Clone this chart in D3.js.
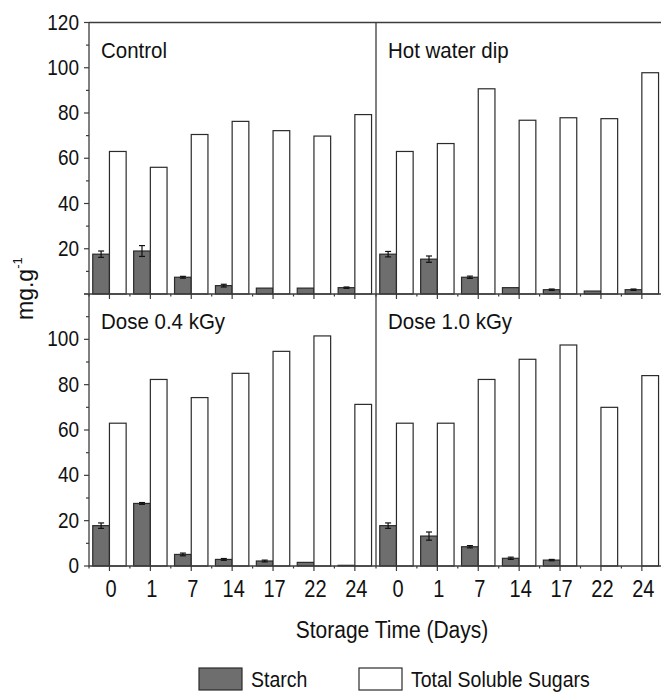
<!DOCTYPE html>
<html><head><meta charset="utf-8">
<script src="https://cdn.jsdelivr.net/npm/d3@7"></script>
<style>body{margin:0;background:#fff;}svg{display:block;font-family:"Liberation Sans",Arial,sans-serif;}</style>
</head><body>
<svg id="chart" width="661" height="693"></svg>
<script>
const days = ["0","1","7","14","17","22","24"];
const panels = ["Control","Hot water dip","Dose 0.4 kGy","Dose 1.0 kGy"];
const starch = [
  [17.6, 19.0, 7.4, 3.7, 2.6, 2.6, 2.8],
  [17.6, 15.4, 7.4, 2.8, 1.9, 1.3, 1.9],
  [17.8, 27.6, 5.1, 2.9, 2.2, 1.6, 0.3],
  [17.8, 13.2, 8.5, 3.4, 2.6, 0, 0]
];
const starchErr = [
  [1.4, 2.4, 0.4, 0.6, 0, 0, 0.3],
  [1.2, 1.4, 0.5, 0, 0.3, 0, 0.3],
  [1.2, 0.4, 0.6, 0.4, 0.4, 0, 0],
  [1.2, 1.8, 0.5, 0.5, 0.3, 0, 0]
];
const tss = [
  [63, 56, 70.5, 76.3, 72.2, 69.8, 79.3],
  [63, 66.5, 90.7, 76.8, 77.9, 77.5, 97.8],
  [63, 82.3, 74.3, 85, 94.7, 101.5, 71.3],
  [63, 63, 82.3, 91.2, 97.5, 70, 84]
];
const yTicksTop = [20, 40, 60, 80, 100, 120];
const yTicksBottom = [0, 20, 40, 60, 80, 100];
const seriesNames = ["Starch", "Total Soluble Sugars"];

const svg = d3.select("#chart");
const L = 89, M = 376, W = 286.3, T = 22.5, MID = 294, B = 566;
const starchFill = "#6e6e6e", edge = "#2b2b2b", frame = "#3c3c3c", txt = "#111";
const SY = 1.12;

function text(g, x, y, s, size, anchor, sy) {
  return g.append("text")
    .attr("transform", `translate(${x},${y}) scale(1,${sy || SY})`)
    .attr("font-size", size).attr("text-anchor", anchor || "start")
    .attr("fill", txt).text(s);
}

const yTop = d3.scaleLinear().domain([0, 120]).range([MID, T]);
const yBot = d3.scaleLinear().domain([0, 120]).range([B, MID]);
const xLeft = d3.scaleBand().domain(days).range([L, L + W]).paddingInner(0).paddingOuter(0);
const xRight = d3.scaleBand().domain(days).range([M, M + W]).paddingInner(0).paddingOuter(0);
const xSub = d3.scaleBand().domain(seriesNames).range([0, xLeft.bandwidth()]).paddingInner(0).paddingOuter(0.2246);

const layout = [
  {x: xLeft, y: yTop, lx: L, ly: T},
  {x: xRight, y: yTop, lx: M, ly: T},
  {x: xLeft, y: yBot, lx: L, ly: MID},
  {x: xRight, y: yBot, lx: M, ly: MID}
];

layout.forEach((p, k) => {
  const g = svg.append("g");
  const base = p.y(0);
  // x ticks
  days.forEach(d => {
    const c = p.x(d) + p.x.bandwidth() / 2;
    g.append("line").attr("x1", c).attr("x2", c).attr("y1", base).attr("y2", base + 5)
      .attr("stroke", frame).attr("stroke-width", 1.2);
    const m = p.x(d);
    g.append("line").attr("x1", m).attr("x2", m).attr("y1", base).attr("y2", base + 2.5)
      .attr("stroke", frame).attr("stroke-width", 1.2);
  });
  // bars
  days.forEach((d, i) => {
    const x0 = p.x(d);
    const sv = starch[k][i];
    if (sv > 0) {
      g.append("rect").attr("x", x0 + xSub("Starch")).attr("width", xSub.bandwidth())
        .attr("y", p.y(sv)).attr("height", base - p.y(sv))
        .attr("fill", starchFill).attr("stroke", edge).attr("stroke-width", 1.2);
      const e = starchErr[k][i];
      if (e > 0) {
        const cx = x0 + xSub("Starch") + xSub.bandwidth() / 2;
        g.append("line").attr("x1", cx).attr("x2", cx).attr("y1", p.y(sv - e)).attr("y2", p.y(sv + e))
          .attr("stroke", "#111").attr("stroke-width", 1.2);
        [sv - e, sv + e].forEach(v => g.append("line").attr("x1", cx - 3).attr("x2", cx + 3)
          .attr("y1", p.y(v)).attr("y2", p.y(v)).attr("stroke", "#111").attr("stroke-width", 1.2));
      }
    }
    const tv = tss[k][i];
    g.append("rect").attr("x", x0 + xSub("Total Soluble Sugars")).attr("width", xSub.bandwidth())
      .attr("y", p.y(tv)).attr("height", base - p.y(tv))
      .attr("fill", "#fff").attr("stroke", edge).attr("stroke-width", 1.2);
  });
  // panel label
  text(g, p.lx + 12, p.ly + 35, panels[k], 20.5, "start");
});

// frame
const fr = svg.append("g").attr("stroke", frame).attr("stroke-width", 1.3).attr("fill", "none");
[T, MID, B].forEach(y => fr.append("line").attr("x1", L).attr("x2", 670).attr("y1", y).attr("y2", y));
[L, M].forEach(x => fr.append("line").attr("x1", x).attr("x2", x).attr("y1", T).attr("y2", B));

// y axes (left only)
const ya = svg.append("g");
[[yTop, yTicksTop], [yBot, yTicksBottom]].forEach(([y, ticks]) => {
  d3.range(0, 121, 10).forEach(v => {
    const major = v % 20 === 0;
    ya.append("line").attr("x1", L - (major ? 5 : 3)).attr("x2", L).attr("y1", y(v)).attr("y2", y(v))
      .attr("stroke", frame).attr("stroke-width", 1.2);
  });
  ticks.forEach(v => text(ya, L - 10, y(v) + 7, String(v), 19, "end"));
});

// x tick labels
[xLeft, xRight].forEach(x => days.forEach(d => {
  text(svg, x(d) + x.bandwidth() / 2 + 1.5, 597, d, 20, "middle", 1.2);
}));

// axis titles
text(svg, 392, 638, "Storage Time (Days)", 21, "middle");
const yt = svg.append("text").attr("transform", "translate(33,320) rotate(-90)")
  .attr("font-size", 23).attr("fill", txt);
yt.append("tspan").text("mg.g");
yt.append("tspan").attr("font-size", 13).attr("dy", -11).text("-1");

// legend
const lg = svg.append("g");
const legendX = [199, 359];
seriesNames.forEach((s, i) => {
  lg.append("rect").attr("x", legendX[i]).attr("y", 668).attr("width", 43).attr("height", 22)
    .attr("fill", i === 0 ? starchFill : "#fff").attr("stroke", edge).attr("stroke-width", 1.2);
  text(lg, legendX[i] + 52, 687, s, 19.5, "start");
});
</script>
</body></html>
